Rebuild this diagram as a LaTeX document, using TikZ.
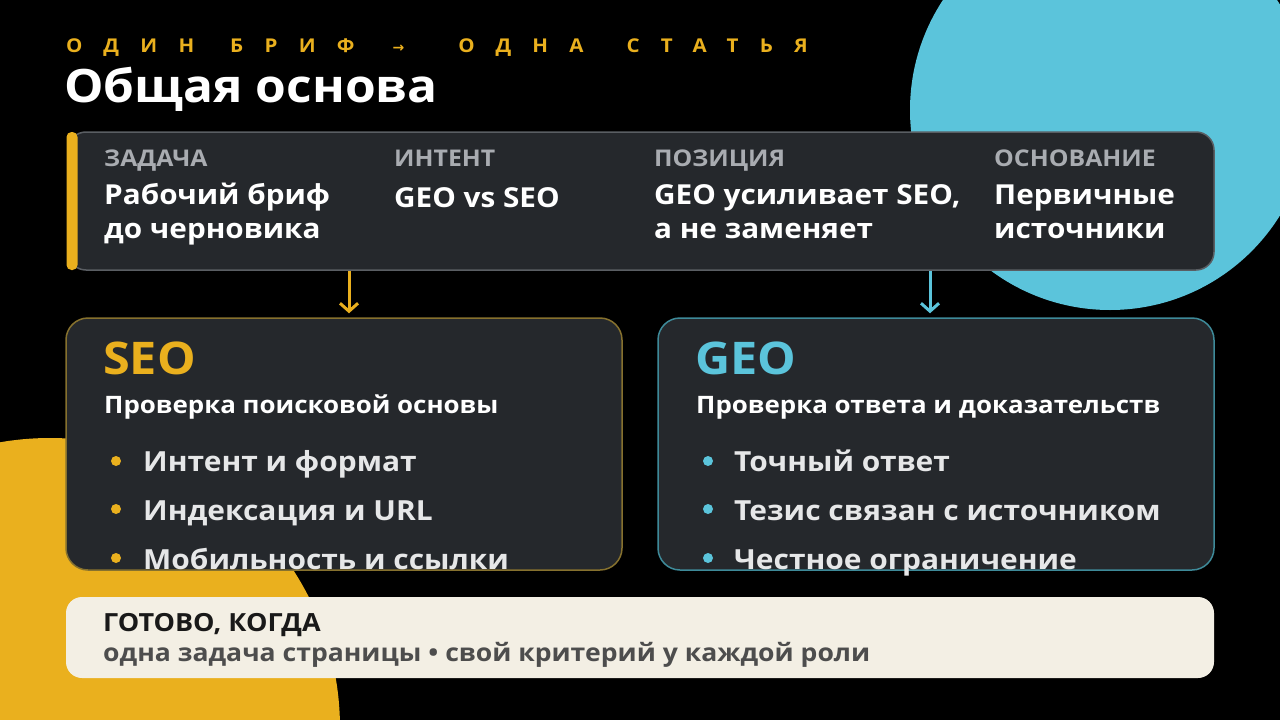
\documentclass[tikz,border=0pt]{standalone}
\usepackage{fontspec}
\setmainfont{Open Sans}[FakeStretch=1.08]
\newfontfamily\eyefont{Open Sans}[LetterSpace=112, FakeStretch=1.08]
\newfontfamily\dvfont{DejaVu Sans}
\usetikzlibrary{arrows.meta}
\definecolor{bgc}{HTML}{000000}
\definecolor{cyanc}{HTML}{5BC4DB}
\definecolor{yelc}{HTML}{EAB01E}
\definecolor{panel}{HTML}{25282C}
\definecolor{panelline}{HTML}{5A5E63}
\definecolor{seoline}{HTML}{86712E}
\definecolor{geoline}{HTML}{3E8A99}
\definecolor{labelc}{HTML}{A9ACB1}
\definecolor{bullettext}{HTML}{E6E7E8}
\definecolor{cream}{HTML}{F3EFE4}
\definecolor{creamtext}{HTML}{4D4D4D}
\tikzset{
  panelbox/.style={draw=panelline, line width=1.5pt, fill=panel, rounded corners=18pt, inner sep=0pt},
  rolebox/.style={line width=1.5pt, fill=panel, rounded corners=22pt, inner sep=0pt, minimum width=556pt, minimum height=252pt},
  lbl/.style={anchor=base west, inner sep=0pt, text=labelc, font=\bfseries\fontsize{23}{27}\selectfont},
  val/.style={anchor=base west, inner sep=0pt, text=white, font=\bfseries\fontsize{27.5}{32}\selectfont},
  rolehead/.style={anchor=base west, inner sep=0pt, font=\bfseries\fontsize{45}{52}\selectfont},
  rolesub/.style={anchor=base west, inner sep=0pt, text=white, font=\bfseries\fontsize{24}{28}\selectfont},
  item/.style={anchor=base west, inner sep=0pt, text=bullettext, font=\bfseries\fontsize{27.7}{32}\selectfont},
  dot/.style={circle, inner sep=0pt, minimum size=10pt},
  arr/.style={line width=3pt, -{Straight Barb[length=8pt,width=18pt,line width=3pt]}},
}
\begin{document}
\begin{tikzpicture}[x=1pt,y=-1pt]
\useasboundingbox (0,0) rectangle (1280,720);
\fill[bgc] (0,0) rectangle (1280,720);
\begin{scope}
\clip (0,0) rectangle (1280,720);
\fill[cyanc] (1110,110) circle (200pt);
\fill[yelc] (50,728) circle (290pt);
\end{scope}

% header
\node[anchor=base west, inner sep=0pt, text=yelc, font=\eyefont\bfseries\fontsize{19}{22}\selectfont] (eyebrow) at (66,52)
  {ОДИН\hspace{36pt}БРИФ\hspace{38pt}{\dvfont\fontsize{14}{16}\selectfont →}\hspace{54pt}ОДНА\hspace{43pt}СТАТЬЯ};
\node[anchor=base west, inner sep=0pt, text=white, font=\bfseries\fontsize{46}{52}\selectfont] (title) at (64,102) {Общая основа};

% brief panel
\node[panelbox, minimum width=1146pt, minimum height=138pt] (brief) at (641,201) {};
\node[fill=yelc, rounded corners=5pt, minimum width=11pt, minimum height=138pt, inner sep=0pt] (bar) at (72,201) {};
\node[lbl] (l1) at (104,166) {ЗАДАЧА};
\node[val] (v1a) at (104,204) {Рабочий бриф};
\node[val] (v1b) at (104,238) {до черновика};
\node[lbl] (l2) at (394,166) {ИНТЕНТ};
\node[val] (v2a) at (394,207) {GEO vs SEO};
\node[lbl] (l3) at (654,166) {ПОЗИЦИЯ};
\node[val] (v3a) at (654,204) {GEO усиливает SEO,};
\node[val] (v3b) at (654,238) {а не заменяет};
\node[lbl] (l4) at (994,166) {ОСНОВАНИЕ};
\node[val] (v4a) at (994,204) {Первичные};
\node[val] (v4b) at (994,238) {источники};

% role boxes
\node[rolebox, draw=seoline] (seo) at (344,444) {};
\node[rolebox, draw=geoline] (geo) at (936,444) {};

\coordinate (ya) at (349,0);
\coordinate (ca) at (930,0);
\draw[arr, yelc, shorten >=4pt] (brief.south -| ya) -- (seo.north -| ya);
\draw[arr, cyanc, shorten >=4pt] (brief.south -| ca) -- (geo.north -| ca);

\node[rolehead, text=yelc] (seoh) at (103,374) {SEO};
\node[rolesub] (seos) at (104,413) {Проверка поисковой основы};
\node[dot, fill=yelc] (sd1) at (116,461) {};
\node[dot, fill=yelc] (sd2) at (116,509) {};
\node[dot, fill=yelc] (sd3) at (116,558) {};
\node[item] (si1) at (143,471) {Интент и формат};
\node[item] (si2) at (143,520) {Индексация и URL};
\node[item] (si3) at (143,569) {Мобильность и ссылки};

\node[rolehead, text=cyanc] (geoh) at (695,374) {GEO};
\node[rolesub] (geos) at (696,413) {Проверка ответа и доказательств};
\node[dot, fill=cyanc] (gd1) at (708,461) {};
\node[dot, fill=cyanc] (gd2) at (708,509) {};
\node[dot, fill=cyanc] (gd3) at (708,558) {};
\node[item] (gi1) at (734,471) {Точный ответ};
\node[item] (gi2) at (734,520) {Тезис связан с источником};
\node[item] (gi3) at (734,569) {Честное ограничение};

% done box
\node[fill=cream, rounded corners=16pt, minimum width=1148pt, minimum height=81pt, inner sep=0pt] (done) at (640,637.5) {};
\node[anchor=base west, inner sep=0pt, text=black!90, font=\bfseries\fontsize{25}{29}\selectfont] (doneh) at (103,631) {ГОТОВО, КОГДА};
\node[anchor=base west, inner sep=0pt, text=creamtext, font=\bfseries\fontsize{24.6}{29}\selectfont] (donet) at (103,661) {одна задача страницы • свой критерий у каждой роли};
\end{tikzpicture}
\end{document}
